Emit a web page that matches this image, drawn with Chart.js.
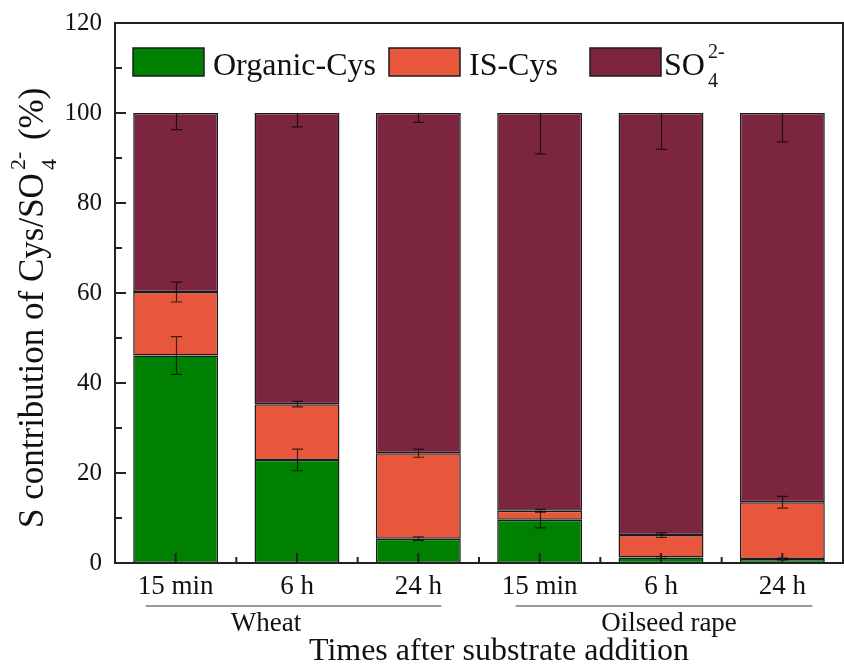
<!DOCTYPE html>
<html>
<head>
<meta charset="utf-8">
<script src="https://cdn.jsdelivr.net/npm/chart.js@4.4.0/dist/chart.umd.min.js"></script>
<style>
  html, body { margin: 0; padding: 0; background: #fff; }
  #wrap { width: 844px; height: 668px; }
</style>
</head>
<body>
<div id="wrap"><canvas id="chart"></canvas></div>
<script>
// values (% of S)
const categories = ['15 min', '6 h', '24 h', '15 min', '6 h', '24 h'];
const organicCys = [46.1, 22.9, 5.4, 9.6, 1.2, 0.9];
const isCys = [14.1, 12.4, 19.0, 2.0, 5.0, 12.6];
const sulfate = [39.8, 64.7, 75.6, 88.4, 93.8, 86.5];
const organicErr = [4.2, 2.4, 0.4, 1.8, 0.2, 0.2];
const isErr = [2.2, 0.6, 0.9, 0.3, 0.5, 1.3];
const sulfateErr = [3.7, 3.1, 2.1, 9.1, 8.1, 6.4];
const yTicks = [0, 20, 40, 60, 80, 100, 120];
const groups = [
  { label: 'Wheat', first: 0, last: 2 },
  { label: 'Oilseed rape', first: 3, last: 5 }
];

const FONT = "'Liberation Serif', 'Times New Roman', serif";
const colors = { organic: '#008000', is: '#E8573C', so4: '#7B263E' };

const dataset = (label, data, color) => ({
  label,
  data,
  backgroundColor: color,
  borderColor: '#1c1c1c',
  borderWidth: 1.5,
  borderSkipped: false,
  barPercentage: 0.70,
  categoryPercentage: 1.0
});

// text with a sub and superscript after it, e.g. SO4 2-
function drawIon(ctx, x, y, size) {
  ctx.font = size + 'px ' + FONT;
  ctx.fillText('SO', x, y);
  const w = ctx.measureText('SO').width;
  const small = Math.round(size * 0.62);
  ctx.font = small + 'px ' + FONT;
  ctx.fillText('4', x + w + 3, y + size * 0.36);
  ctx.fillText('2-', x + w + 3, y - size * 0.52);
  return w + 3 + ctx.measureText('2-').width;
}

const decorations = {
  id: 'decorations',
  afterDatasetsDraw(chart) {
    const ctx = chart.ctx;
    const xs = chart.scales.x;
    const ys = chart.scales.y;
    const area = chart.chartArea;

    // error bars
    ctx.save();
    ctx.strokeStyle = 'rgba(0,0,0,0.7)';
    ctx.lineWidth = 1.2;
    const cap = 5.5;
    const bar = (x, lo, hi, capLo, capHi) => {
      const yl = ys.getPixelForValue(lo), yh = ys.getPixelForValue(hi);
      ctx.beginPath();
      ctx.moveTo(x, yl); ctx.lineTo(x, yh);
      if (capLo) { ctx.moveTo(x - cap, yl); ctx.lineTo(x + cap, yl); }
      if (capHi) { ctx.moveTo(x - cap, yh); ctx.lineTo(x + cap, yh); }
      ctx.stroke();
    };
    categories.forEach((c, i) => {
      const x = Math.round(xs.getPixelForValue(i)) + 0.5;
      const t1 = organicCys[i];
      const t2 = organicCys[i] + isCys[i];
      const t3 = t2 + sulfate[i];
      bar(x, t1 - organicErr[i], t1 + organicErr[i], true, true);
      bar(x, t2 - isErr[i], t2 + isErr[i], true, true);
      bar(x, t3 - sulfateErr[i], t3, true, false);
    });
    ctx.restore();

    // frame and inward ticks
    ctx.save();
    ctx.strokeStyle = '#222';
    ctx.lineWidth = 2;
    ctx.strokeRect(area.left, area.top, area.right - area.left, area.bottom - area.top);
    ctx.beginPath();
    yTicks.forEach((v, i) => {
      const y = ys.getPixelForValue(v);
      ctx.moveTo(area.left, y); ctx.lineTo(area.left + 11, y);
      if (i < yTicks.length - 1) {
        const ym = ys.getPixelForValue((v + yTicks[i + 1]) / 2);
        ctx.moveTo(area.left, ym); ctx.lineTo(area.left + 7, ym);
      }
    });
    categories.forEach((c, i) => {
      const x = xs.getPixelForValue(i);
      ctx.moveTo(x, area.bottom); ctx.lineTo(x, area.bottom - 10);
      if (i > 0) {
        const xm = (xs.getPixelForValue(i - 1) + x) / 2;
        ctx.moveTo(xm, area.bottom); ctx.lineTo(xm, area.bottom - 6);
      }
    });
    ctx.stroke();
    ctx.restore();
  },
  afterDraw(chart) {
    const ctx = chart.ctx;
    const xs = chart.scales.x;
    ctx.save();
    ctx.fillStyle = '#111';
    ctx.textBaseline = 'alphabetic';
    ctx.textAlign = 'left';

    // legend
    const items = [
      { x: 133, color: colors.organic, text: 'Organic-Cys' },
      { x: 389, color: colors.is, text: 'IS-Cys' },
      { x: 590, color: colors.so4, text: null }
    ];
    items.forEach(it => {
      ctx.fillStyle = it.color;
      ctx.fillRect(it.x, 48, 71, 28);
      ctx.strokeStyle = '#1c1c1c';
      ctx.lineWidth = 1.5;
      ctx.strokeRect(it.x, 48, 71, 28);
      ctx.fillStyle = '#111';
      if (it.text) {
        ctx.font = '32px ' + FONT;
        ctx.fillText(it.text, it.x + 80, 75);
      } else {
        drawIon(ctx, it.x + 74, 75, 32);
      }
    });

    // group brackets
    groups.forEach((g, k) => {
      const x0 = xs.getPixelForValue(g.first) - (k === 0 ? 30 : 24);
      const x1 = xs.getPixelForValue(g.last) + (k === 0 ? 23 : 30);
      ctx.strokeStyle = '#999';
      ctx.lineWidth = 2;
      ctx.beginPath();
      ctx.moveTo(x0, 606); ctx.lineTo(x1, 606);
      ctx.stroke();
      ctx.font = '27px ' + FONT;
      ctx.textAlign = 'center';
      ctx.fillText(g.label, k === 0 ? 266 : 669, 631);
    });

    // x title
    ctx.font = '32px ' + FONT;
    ctx.textAlign = 'center';
    ctx.fillText('Times after substrate addition', 499, 660);

    // y title
    ctx.translate(43, 528);
    ctx.rotate(-Math.PI / 2);
    ctx.textAlign = 'left';
    const size = 35;
    ctx.font = size + 'px ' + FONT;
    const lead = 'S contribution of Cys/';
    ctx.fillText(lead, 0, 0);
    let pos = ctx.measureText(lead).width;
    pos += drawIon(ctx, pos, 0, size);
    ctx.font = size + 'px ' + FONT;
    ctx.fillText(' (%)', pos + 3, 0);
    ctx.restore();
  }
};

new Chart(document.getElementById('chart'), {
  type: 'bar',
  data: {
    labels: categories,
    datasets: [
      dataset('Organic-Cys', organicCys, colors.organic),
      dataset('IS-Cys', isCys, colors.is),
      dataset('SO4 2-', sulfate, colors.so4)
    ]
  },
  options: {
    responsive: true,
    maintainAspectRatio: false,
    animation: false,
    layout: { padding: { left: 0, right: 1, top: 23, bottom: 0 } },
    plugins: {
      legend: { display: false },
      tooltip: { enabled: false }
    },
    scales: {
      x: {
        stacked: true,
        grid: { display: false, drawTicks: false },
        border: { display: false },
        ticks: { color: '#111', font: { family: FONT, size: 27 }, padding: 8 },
        afterFit: (s) => { s.height = 105; }
      },
      y: {
        stacked: true,
        min: 0,
        max: 120,
        grid: { display: false, drawTicks: false },
        border: { display: false },
        ticks: {
          stepSize: 20,
          color: '#111',
          font: { family: FONT, size: 25 },
          padding: 13
        },
        afterFit: (s) => { s.width = 115; s.paddingTop = 0; s.paddingBottom = 0; }
      }
    }
  },
  plugins: [decorations]
});
</script>
</body>
</html>
